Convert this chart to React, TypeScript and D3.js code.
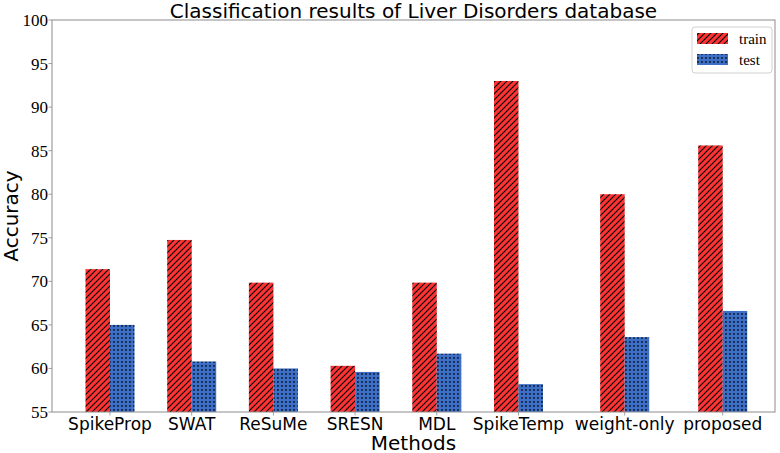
import * as d3 from 'd3';

const methods = ['SpikeProp', 'SWAT', 'ReSuMe', 'SRESN', 'MDL', 'SpikeTemp', 'weight-only', 'proposed'];
// x positions of the groups (last two are spread out in the original figure)
const methodPos = [0, 1, 2, 3, 4, 5, 6.3, 7.5];
const trainAcc = [71.4, 74.75, 69.85, 60.3, 69.85, 93.0, 80.0, 85.6];
const testAcc = [65.0, 60.8, 60.0, 59.6, 61.7, 58.2, 63.6, 66.6];
const yTicks = [55, 60, 65, 70, 75, 80, 85, 90, 95, 100];

const W = 780;
const H = 453;
const margin = { left: 52, right: 5, top: 20, bottom: 41 };
const barW = 0.3;

const RED = '#ff3333';
const BLUE = '#3d6fc6';
const AXIS = '#8c8c8c';
const SANS = '"DejaVu Sans", sans-serif';
const SERIF = '"Liberation Serif", "Times New Roman", serif';

export default function App() {
    const x = d3.scaleLinear().domain([-0.71, 8.14]).range([margin.left, W - margin.right]);
    const y = d3.scaleLinear().domain([55, 100]).range([H - margin.bottom, margin.top]);
    const x0 = x.range()[0], x1 = x.range()[1];
    const y0 = y.range()[0], y1 = y.range()[1];
    const bw = x(barW) - x(0);

    return <svg width={W} height={H} style={{ position: 'absolute', left: 0, top: 0, background: 'white' }}>
        <defs>
            <pattern id="hatch-train" patternUnits="userSpaceOnUse" width="6" height="6">
                <rect width="6" height="6" fill={RED} />
                <path d="M0,6 L6,0 M-1.5,1.5 L1.5,-1.5 M4.5,7.5 L7.5,4.5" stroke="black" strokeWidth="1.1" />
            </pattern>
            <pattern id="dots-test" patternUnits="userSpaceOnUse" width="4" height="4">
                <rect width="4" height="4" fill={BLUE} />
                <rect x="1.2" y="1.2" width="1.5" height="1.5" fill="black" />
            </pattern>
        </defs>

        <text x={(x0 + x1) / 2} y={18} textAnchor="middle" fontFamily={SANS} fontSize={20} fill="black">
            Classification results of Liver Disorders database
        </text>

        {methods.map((m, i) => {
            const cx = x(methodPos[i]);
            return <g key={m}>
                <rect x={cx - bw} y={y(trainAcc[i])} width={bw} height={y0 - y(trainAcc[i])}
                    fill="url(#hatch-train)" />
                <rect x={cx} y={y(testAcc[i])} width={bw} height={y0 - y(testAcc[i])}
                    fill="url(#dots-test)" />
                <line x1={cx} x2={cx} y1={y0} y2={y0 + 3.5} stroke={AXIS} strokeWidth={0.8} />
                <text x={cx} y={y0 + 18} textAnchor="middle" fontFamily={SANS} fontSize={17} fill="black">{m}</text>
            </g>;
        })}

        <rect x={x0} y={y1} width={x1 - x0} height={y0 - y1} fill="none" stroke={AXIS} strokeWidth={1} />

        {yTicks.map(t => <g key={t}>
            <line x1={x0 - 3.5} x2={x0} y1={y(t)} y2={y(t)} stroke={AXIS} strokeWidth={0.8} />
            <text x={x0 - 4} y={y(t)} dy="0.35em" textAnchor="end" fontFamily={SERIF} fontSize={17} fill="black">{t}</text>
        </g>)}

        <text transform={`translate(18, ${(y0 + y1) / 2}) rotate(-90)`} textAnchor="middle"
            fontFamily={SANS} fontSize={20} fill="black">Accuracy</text>
        <text x={(x0 + x1) / 2} y={450} textAnchor="middle" fontFamily={SANS} fontSize={20} fill="black">Methods</text>

        <g>
            <rect x={692} y={27} width={80} height={46} rx={3} fill="white" fillOpacity={0.8} stroke="#d0d0d0" strokeWidth={1} />
            <rect x={697} y={33} width={31} height={11} fill="url(#hatch-train)" />
            <text x={739} y={38.5} dy="0.35em" fontFamily={SERIF} fontSize={15} fill="black">train</text>
            <rect x={697} y={54} width={31} height={11} fill="url(#dots-test)" />
            <text x={739} y={59.5} dy="0.35em" fontFamily={SERIF} fontSize={15} fill="black">test</text>
        </g>
    </svg>;
}
